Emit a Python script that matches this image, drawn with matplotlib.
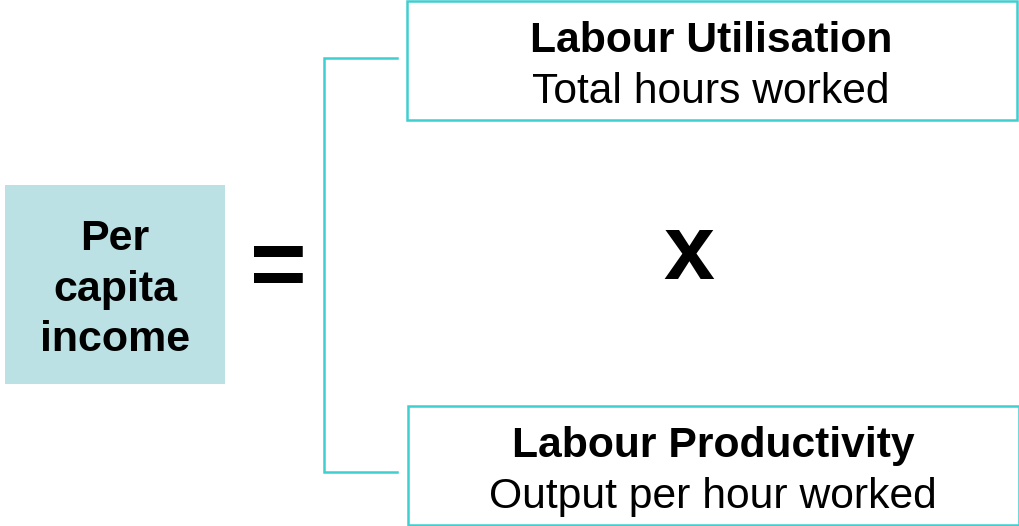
import matplotlib.pyplot as plt
from matplotlib.patches import Rectangle

plt.rcParams['font.family'] = ['Liberation Sans', 'DejaVu Sans']

# diagram content
left_label = ['Per', 'capita', 'income']
top_title = 'Labour Utilisation'
top_sub = 'Total hours worked'
bottom_title = 'Labour Productivity'
bottom_sub = 'Output per hour worked'

teal = '#3ECFD0'
fill = '#BCE1E4'

fig = plt.figure(figsize=(10.2, 5.26), dpi=100)
ax = fig.add_axes([0, 0, 1, 1])
ax.set_xlim(0, 1020)
ax.set_ylim(526, 0)
ax.axis('off')

# left box
ax.add_patch(Rectangle((5, 185), 220, 199, facecolor=fill, edgecolor='none'))
for i, word in enumerate(left_label):
    ax.text(115, 250 + i * 50.5, word, ha='center', va='baseline',
            fontsize=31, fontweight='bold')

# equals sign
ax.text(278, 297, '=', ha='center', va='baseline', fontsize=70, fontweight='bold')

# bracket
ax.plot([397, 324, 324, 397], [58, 58, 472, 472], color=teal, lw=1.8,
        solid_joinstyle='miter')

# right boxes
ax.add_patch(Rectangle((407, 1), 610, 119, facecolor='white', edgecolor=teal, lw=1.8))
ax.add_patch(Rectangle((408, 406), 611, 119, facecolor='white', edgecolor=teal, lw=1.8))

ax.text(711, 52, top_title, ha='center', va='baseline', fontsize=30.7, fontweight='bold')
ax.text(711, 103, top_sub, ha='center', va='baseline', fontsize=30.7)
ax.text(713, 457, bottom_title, ha='center', va='baseline', fontsize=30.7, fontweight='bold')
ax.text(713, 508, bottom_sub, ha='center', va='baseline', fontsize=30.7)

# multiplication sign
ax.text(689, 279, 'x', ha='center', va='baseline', fontsize=66, fontweight='bold')

fig.savefig('out.png', dpi=100)
